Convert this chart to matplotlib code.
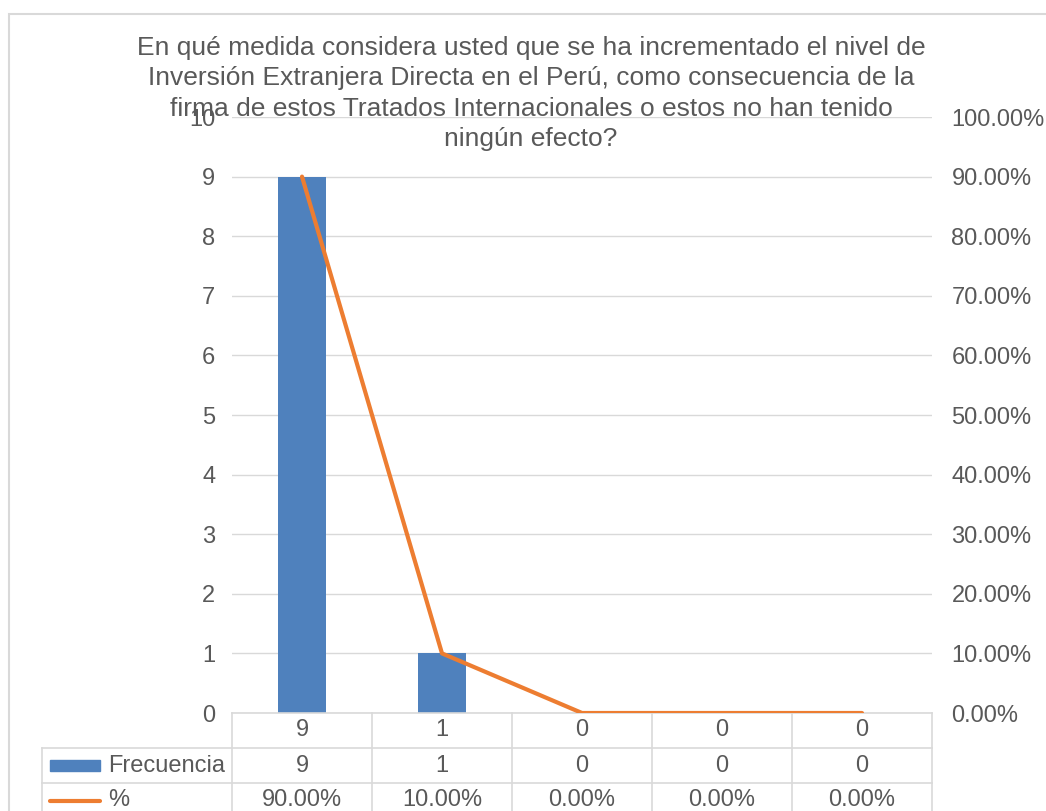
import numpy as np
import matplotlib
matplotlib.use("Agg")
import matplotlib.pyplot as plt
from matplotlib.patches import Rectangle
from matplotlib.lines import Line2D
from matplotlib.ticker import FuncFormatter

plt.rcParams['font.family'] = ['Liberation Sans', 'DejaVu Sans']

# datos
categorias = ['9', '1', '0', '0', '0']
frecuencia = [9, 1, 0, 0, 0]
porcentaje = [0.90, 0.10, 0.0, 0.0, 0.0]
titulo = ("En qué medida considera usted que se ha incrementado el nivel de\n"
          "Inversión Extranjera Directa en el Perú, como consecuencia de la\n"
          "firma de estos Tratados Internacionales o estos no han tenido\n"
          "ningún efecto?")

gris = '#595959'
linea = '#D9D9D9'
azul = '#4F81BD'
naranja = '#ED7D31'
fs = 17

W, H = 1046, 811
fig = plt.figure(figsize=(W / 100, H / 100), dpi=100)

# marco exterior del grafico
fig.add_artist(Rectangle((9 / W, -0.1), 1.2, 1 - 14 / H + 0.1, transform=fig.transFigure,
                         fill=False, ec=linea, lw=1.5))

ax = fig.add_axes([232 / W, (H - 713) / H, 700 / W, 596 / H])
x = np.arange(len(frecuencia))
ax.bar(x, frecuencia, width=0.34, color=azul, zorder=2)
ax.set_xlim(-0.5, len(x) - 0.5)
ax.set_ylim(0, 10)
ax.set_yticks(range(0, 11))
ax.yaxis.grid(True, color=linea, lw=1)
ax.set_axisbelow(True)
ax.set_xticks([])
for s in ax.spines.values():
    s.set_visible(False)
ax.tick_params(axis='y', length=0, pad=12, labelsize=fs, labelcolor=gris)

ax2 = ax.twinx()
ax2.plot(x, porcentaje, color=naranja, lw=3, solid_capstyle='round', zorder=3)
ax2.set_ylim(0, 1)
ax2.set_yticks(np.linspace(0, 1, 11))
ax2.yaxis.set_major_formatter(FuncFormatter(lambda v, p: f"{v * 100:.2f}%"))
for s in ax2.spines.values():
    s.set_visible(False)
ax2.tick_params(axis='y', length=0, pad=14, labelsize=fs, labelcolor=gris)

# tabla de datos
tr = ax.get_xaxis_transform()
h = 596
filas = [0, -35 / h, -70 / h, -105 / h]
x_izq = -0.5 - 190 / 140
x_der = len(x) - 0.5
kw = dict(transform=tr, clip_on=False, color=linea, lw=1.2)
ax.add_line(Line2D([-0.5, x_der], [filas[0], filas[0]], **kw))
for yy in filas[1:3]:
    ax.add_line(Line2D([x_izq, x_der], [yy, yy], **kw))
for xv in np.arange(-0.5, x_der + 0.01, 1):
    ax.add_line(Line2D([xv, xv], [filas[0], -0.3], **kw))
ax.add_line(Line2D([x_izq, x_izq], [filas[1], -0.3], **kw))

ymid = [(filas[i] + filas[i + 1]) / 2 for i in range(3)]
for i in x:
    ax.text(i, ymid[0], categorias[i], transform=tr, ha='center', va='center',
            fontsize=fs, color=gris)
    ax.text(i, ymid[1], f"{frecuencia[i]}", transform=tr, ha='center', va='center',
            fontsize=fs, color=gris)
    ax.text(i, ymid[2], f"{porcentaje[i] * 100:.2f}%", transform=tr, ha='center',
            va='center', fontsize=fs, color=gris)

# claves de leyenda en la tabla
px = 1 / 140
ax.add_patch(Rectangle((x_izq + 8 * px, ymid[1] - 5 / h), 50 * px, 11 / h, transform=tr,
                       clip_on=False, color=azul))
ax.add_line(Line2D([x_izq + 8 * px, x_izq + 58 * px], [ymid[2], ymid[2]], transform=tr,
                   clip_on=False, color=naranja, lw=3, solid_capstyle='round'))
ax.text(x_izq + 66 * px, ymid[1], "Frecuencia", transform=tr, ha='left', va='center',
        fontsize=fs, color=gris)
ax.text(x_izq + 66 * px, ymid[2], "%", transform=tr, ha='left', va='center',
        fontsize=fs, color=gris)

fig.text(531 / W, 1 - 36 / H, titulo, ha='center', va='top', fontsize=19,
         color=gris, linespacing=1.33, zorder=5)

fig.savefig("out.png", dpi=100)
